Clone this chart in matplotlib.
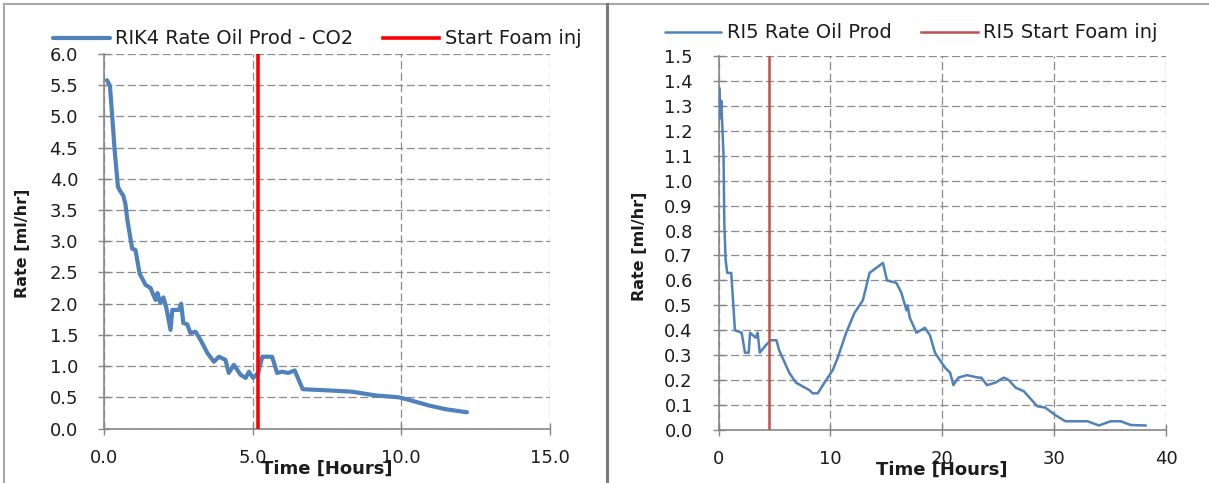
import matplotlib
matplotlib.use('Agg')
import matplotlib.pyplot as plt
from matplotlib.lines import Line2D

plt.rcParams['font.family'] = ['DejaVu Sans']

# ---------------- data ----------------
# Left panel: RIK4
rik4_time = [0.1, 0.2, 0.28, 0.36, 0.47, 0.55, 0.65, 0.72, 0.79, 0.95, 1.06, 1.2, 1.4,
             1.57, 1.65, 1.74, 1.8, 1.9, 2.0, 2.1, 2.24, 2.3, 2.52, 2.6, 2.67, 2.8, 2.91,
             3.08, 3.25, 3.48, 3.7, 3.87, 4.09, 4.2, 4.37, 4.6, 4.77, 4.88, 5.02, 5.19,
             5.33, 5.66, 5.83, 6.0, 6.2, 6.42, 6.69, 7.57, 8.35, 9.14, 9.92, 10.26, 10.93,
             11.49, 12.22]
rik4_rate = [5.58, 5.49, 4.98, 4.45, 3.87, 3.80, 3.73, 3.60, 3.33, 2.88, 2.86, 2.48, 2.30,
             2.25, 2.15, 2.06, 2.17, 2.01, 2.10, 1.93, 1.58, 1.90, 1.90, 2.00, 1.69, 1.67, 1.53,
             1.55, 1.42, 1.21, 1.07, 1.15, 1.10, 0.89, 1.02, 0.86, 0.81, 0.91, 0.81, 0.89,
             1.15, 1.15, 0.89, 0.91, 0.89, 0.93, 0.63, 0.61, 0.59, 0.53, 0.50, 0.46, 0.37,
             0.31, 0.26]
rik4_foam_start = 5.2

# Right panel: RI5
ri5_time = [0.1, 0.15, 0.25, 0.45, 0.52, 0.64, 0.78, 1.14, 1.47, 2.07, 2.37, 2.7, 2.82,
            3.33, 3.5, 3.69, 4.23, 4.68, 5.18, 5.42, 6.32, 6.92, 8.12, 8.42, 8.87, 9.47,
            10.21, 10.66, 11.41, 12.16, 12.9, 13.5, 14.7, 15.06, 15.9, 16.35, 16.8, 16.9,
            17.1, 17.7, 18.45, 18.9, 19.35, 20.25, 20.7, 21.0, 21.44, 22.2, 23.24, 23.5,
            24.0, 24.75, 25.5, 25.95, 26.55, 27.3, 28.5, 29.2, 30.1, 31.0, 33.0, 34.0,
            35.05, 35.95, 36.85, 38.2]
ri5_rate = [1.37, 1.25, 1.32, 1.10, 0.83, 0.68, 0.63, 0.63, 0.40, 0.39, 0.31, 0.31, 0.39,
            0.37, 0.39, 0.31, 0.34, 0.36, 0.36, 0.32, 0.23, 0.19, 0.16, 0.147, 0.147, 0.19,
            0.24, 0.29, 0.39, 0.47, 0.52, 0.63, 0.67, 0.60, 0.59, 0.55, 0.48, 0.50,
            0.45, 0.39, 0.41, 0.38, 0.31, 0.25, 0.23, 0.18, 0.21, 0.22, 0.21, 0.21,
            0.18, 0.19, 0.21, 0.20, 0.17, 0.155, 0.095, 0.09, 0.06, 0.035, 0.035, 0.018,
            0.035, 0.035, 0.02, 0.018]
ri5_foam_start = 4.5

left_xticks = [0.0, 5.0, 10.0, 15.0]
left_yticks = [0.0, 0.5, 1.0, 1.5, 2.0, 2.5, 3.0, 3.5, 4.0, 4.5, 5.0, 5.5, 6.0]
right_xticks = [0, 10, 20, 30, 40]
right_yticks = [0.0, 0.1, 0.2, 0.3, 0.4, 0.5, 0.6, 0.7, 0.8, 0.9, 1.0, 1.1, 1.2, 1.3, 1.4, 1.5]

left_labels = ['RIK4 Rate Oil Prod - CO2', 'Start Foam inj']
right_labels = ['RI5 Rate Oil Prod', 'RI5 Start Foam inj']
x_title = 'Time [Hours]'
y_title = 'Rate [ml/hr]'

# ---------------- figure ----------------
W, H = 1209, 483
fig = plt.figure(figsize=(W / 100, H / 100), dpi=100)
fig.patch.set_facecolor('white')


def fx(px):
    return px / W


def fy(py):
    return 1 - py / H


L_W, L_H = 549.5 - 104, 428.5 - 54
R_W, R_H = 1166 - 718.5, 430 - 56
ax1 = fig.add_axes([fx(104), fy(428.5), L_W / W, L_H / H])
ax2 = fig.add_axes([fx(718.5), fy(430), R_W / W, R_H / H])

TXT = '#1c1c1c'
AXC = '#878787'


def style(ax, xticks, yticks, xfmt, yfmt, hpx):
    ax.set_xlim(xticks[0], xticks[-1])
    ax.set_ylim(yticks[0], yticks[-1])
    ax.set_xticks(xticks)
    ax.set_yticks(yticks)
    ax.set_xticklabels([xfmt.format(v) for v in xticks])
    ax.set_yticklabels([yfmt.format(v) for v in yticks])
    for s in ['top', 'right']:
        ax.spines[s].set_visible(False)
    for s in ['left', 'bottom']:
        ax.spines[s].set_color(AXC)
        ax.spines[s].set_linewidth(1.2)
    ax.grid(True, color='#8c8c8c', lw=0.9, linestyle=(0, (6.5, 2.8)))
    ax.set_axisbelow(True)
    ax.tick_params(axis='both', direction='inout', length=9, width=1.0, color=AXC,
                   labelsize=13, labelcolor=TXT)
    ax.tick_params(axis='y', pad=14)
    ax.tick_params(axis='x', pad=10)
    ax.set_xlabel(x_title, fontsize=13, fontweight='bold', color=TXT)
    ax.xaxis.label.set_va('baseline')
    ax.xaxis.set_label_coords(0.5, -45 / hpx)
    ax.set_ylabel(y_title, fontsize=11.5, fontweight='bold', color=TXT)


style(ax1, left_xticks, left_yticks, '{:.1f}', '{:.1f}', L_H)
style(ax2, right_xticks, right_yticks, '{:d}', '{:.1f}', R_H)
ax1.yaxis.set_label_coords((30 - 104) / L_W, 0.495)
ax2.yaxis.set_label_coords((647 - 718.5) / R_W, 0.49)

blue = '#4F81BD'
l1, = ax1.plot(rik4_time, rik4_rate, color=blue, lw=3.0, solid_joinstyle='round',
               solid_capstyle='round', zorder=3)
r1 = ax1.axvline(rik4_foam_start, color='#FF0000', lw=2.6, zorder=4)
l2, = ax2.plot(ri5_time, ri5_rate, color=blue, lw=1.8, solid_joinstyle='round',
               solid_capstyle='round', zorder=3)
r2 = ax2.axvline(ri5_foam_start, color='#C0504D', lw=1.8, zorder=4)

for ax, handles, labels, cx, cy in [(ax1, [l1, r1], left_labels, 317.5, 39),
                                    (ax2, [l2, r2], right_labels, 911.5, 33)]:
    leg = fig.legend(handles, labels, loc='center', bbox_to_anchor=(fx(cx), fy(cy)),
                     bbox_transform=fig.transFigure, ncol=2, frameon=False,
                     fontsize=14, handlelength=2.9, handletextpad=0.3,
                     columnspacing=1.5, borderpad=0, borderaxespad=0)
    for t in leg.get_texts():
        t.set_color(TXT)

# panel borders
border = '#a8a8a8'
fig.add_artist(Line2D([fx(3.5), fx(3.5)], [fy(4), 0], transform=fig.transFigure,
                      color=border, lw=1.5))
fig.add_artist(Line2D([fx(3.5), fx(1208)], [fy(4), fy(4)], transform=fig.transFigure,
                      color=border, lw=1.5))
fig.add_artist(Line2D([fx(607), fx(607)], [fy(4), 0], transform=fig.transFigure,
                      color='#7a7a7a', lw=2.2))

fig.savefig('out.png', dpi=100, facecolor='white')
